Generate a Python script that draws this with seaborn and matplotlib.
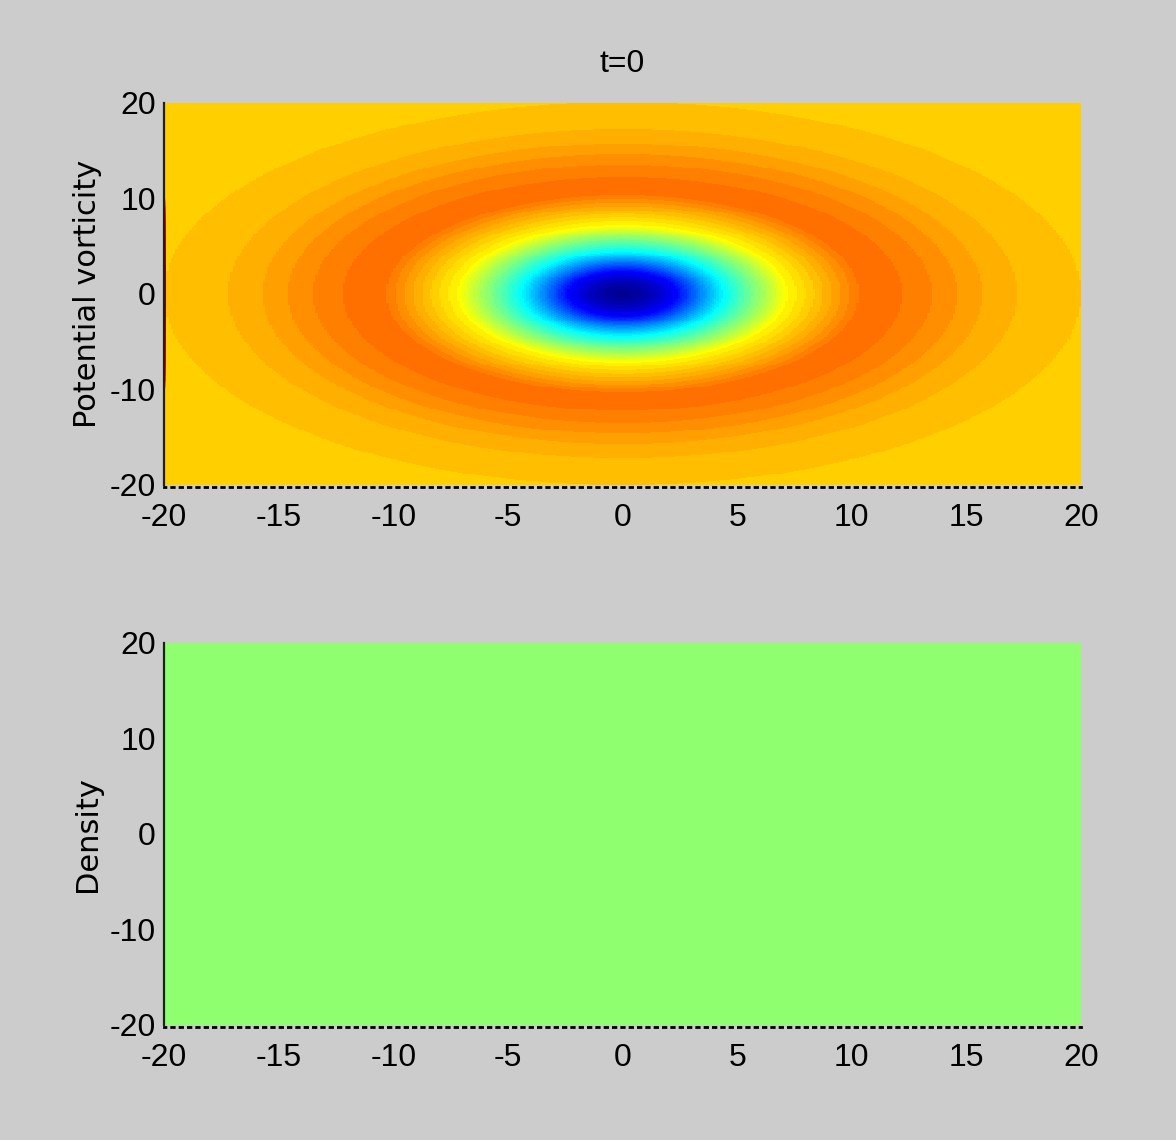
import numpy as np
import pandas as pd
import matplotlib
matplotlib.use("Agg")
import matplotlib.pyplot as plt
import seaborn as sns
from matplotlib.colors import ListedColormap

# ---------------- data ----------------
title_text = "t=0"
ylabel_top = "Potential vorticity"
ylabel_bottom = "Density"
x_ticks = [-20, -15, -10, -5, 0, 5, 10, 15, 20]
y_ticks = [20, 10, 0, -10, -20]
x_range = [-20, 20]
y_range = [-20, 20]

# radial profile of potential vorticity (colour level, 64-step scale)
pv_radius = [0.0, 0.7, 1.5, 2.4, 3.5, 4.5, 5.9, 7.2, 10.3, 11.2, 12.2, 13.5, 14.6, 15.7, 17.2, 20.0, 28.3]
pv_level = [0.5, 1.5, 4.0, 8.0, 16.5, 24.0, 32.5, 40.0, 48.0, 48.8, 48.0, 47.0, 46.0, 45.0, 44.0, 43.0, 42.2]

# thin strip of high values on the x=-20 boundary column
edge_y = [-10.0, -9.0, -7.0, -3.0, 0.0, 3.0, 7.0, 9.0, 10.0]
edge_level = [43.0, 52.0, 57.0, 61.0, 63.0, 61.0, 57.0, 52.0, 43.0]

# density is uniform at t=0
density_value = 1.0

# ---------------- MATLAB jet(64) colormap ----------------
def matlab_jet(m=64):
    n = int(np.ceil(m / 4))
    u = np.concatenate([np.arange(1, n + 1) / n, np.ones(n - 1), np.arange(n, 0, -1) / n])
    g = int(np.ceil(n / 2)) - (1 if m % 4 == 1 else 0) + np.arange(1, len(u) + 1)
    r = g + n
    b = g - n
    g = g[g <= m]
    r = r[r <= m]
    b = b[b >= 1]
    J = np.zeros((m, 3))
    J[r - 1, 0] = u[:len(r)]
    J[g - 1, 1] = u[:len(g)]
    J[b - 1, 2] = u[len(u) - len(b):]
    return ListedColormap(J)

jet = matlab_jet(64)

# ---------------- grids ----------------
N = 400
step = (x_range[1] - x_range[0]) / N
xc = np.linspace(x_range[0] + step / 2, x_range[1] - step / 2, N)
yc = np.linspace(y_range[1] - step / 2, y_range[0] + step / 2, N)  # top row = +20
XX, YY = np.meshgrid(xc, yc)
RR = np.sqrt(XX ** 2 + YY ** 2)
pv = np.interp(RR, pv_radius, pv_level)
pv[:, 0] = np.maximum(pv[:, 0], np.interp(yc, edge_y, edge_level, left=0, right=0))
pv_df = pd.DataFrame(pv, index=np.round(yc, 3), columns=np.round(xc, 3))
dens_df = pd.DataFrame(np.full((N, N), density_value), index=np.round(yc, 3), columns=np.round(xc, 3))

# ---------------- figure ----------------
sns.set_theme(style="white")
plt.rcParams["font.family"] = ["Liberation Sans", "DejaVu Sans"]

W, H = 1176, 1140
fig = plt.figure(figsize=(W / 100, H / 100), dpi=100, facecolor="#cccccc")
left = 164 / W
width = 917 / W
height = 382.5 / H
ax1 = fig.add_axes([left, 1 - 485 / H, width, height])
ax2 = fig.add_axes([left, 1 - 1025 / H, width, height])

sns.heatmap(pv_df, ax=ax1, cmap=jet, vmin=0, vmax=64, cbar=False,
            xticklabels=False, yticklabels=False, rasterized=True)
sns.heatmap(dens_df, ax=ax2, cmap=jet, vmin=density_value - 1, vmax=density_value + 1,
            cbar=False, xticklabels=False, yticklabels=False, rasterized=True)

def to_xpos(v):
    return (v - x_range[0]) / (x_range[1] - x_range[0]) * N

def to_ypos(v):
    return (y_range[1] - v) / (y_range[1] - y_range[0]) * N

for ax, lab in [(ax1, ylabel_top), (ax2, ylabel_bottom)]:
    ax.set_facecolor("#cccccc")
    ax.set_xlim(0, N)
    ax.set_ylim(N, 0)
    ax.set_xticks([to_xpos(v) for v in x_ticks])
    ax.set_xticklabels([str(v) for v in x_ticks])
    ax.set_yticks([to_ypos(v) for v in y_ticks])
    ax.set_yticklabels([str(v) for v in y_ticks], rotation=0)
    ax.tick_params(axis="both", length=0, labelsize=23, colors="black")
    ax.tick_params(axis="x", pad=12)
    ax.tick_params(axis="y", pad=6)
    for s in ["top", "right"]:
        ax.spines[s].set_visible(False)
    ax.spines["left"].set_visible(True)
    ax.spines["left"].set_color("#202020")
    ax.spines["left"].set_linewidth(1.6)
    ax.spines["bottom"].set_visible(True)
    ax.spines["bottom"].set_color("black")
    ax.spines["bottom"].set_linewidth(2.0)
    ax.spines["bottom"].set_linestyle((0.4, (0.9, 2.1)))
    ax.spines["bottom"].set_position(("outward", 1.2))
    ax.set_xlabel("")
    ax.set_ylabel(lab, fontsize=22, family=["DejaVu Sans"], color="black")
    ax.yaxis.set_label_coords(-0.068, 0.5)

ax1.set_title(title_text, fontsize=23, pad=22, color="black")

fig.savefig("out.png", dpi=100, facecolor="#cccccc")
